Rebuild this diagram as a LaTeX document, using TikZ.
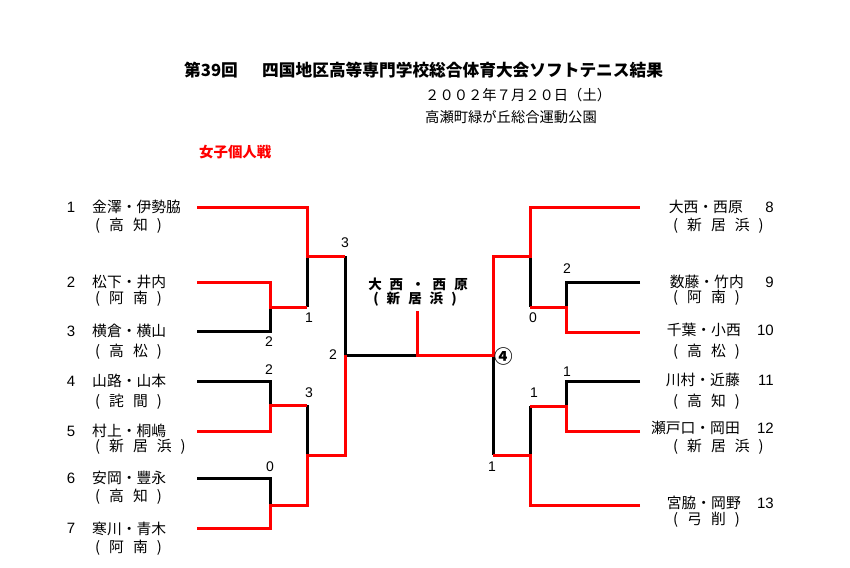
\documentclass[tikz,border=0pt]{standalone}
\usepackage{fontspec}
\setmainfont{Liberation Sans}
\newfontfamily\jp{Noto Sans CJK JP}
\definecolor{brred}{RGB}{255,0,0}
\newcommand\jg{\hspace{9pt}}
\newcommand\jh{\hspace{8pt}}
\tikzset{
  win/.style={draw=brred, line width=3pt},
  lose/.style={draw=black, line width=3pt},
  nm/.style={font=\jp\fontsize{14.8}{16}\selectfont, inner sep=0pt},
  num/.style={font=\fontsize{15}{16}\selectfont, inner sep=0pt},
  sc/.style={font=\fontsize{14}{15}\selectfont, inner sep=0pt},
  ttl/.style={font=\jp\bfseries\fontsize{16.7}{18}\selectfont, inner sep=0pt, anchor=west},
  sub/.style={font=\jp\fontsize{14.3}{16}\selectfont, inner sep=0pt, anchor=west},
  cen/.style={font=\jp\bfseries\fontsize{13.5}{15}\selectfont, inner sep=0pt},
}
\begin{document}
\begin{tikzpicture}[x=1pt,y=-1pt]
\useasboundingbox[fill=white] (0,0) rectangle (850,567);
% titles
\node[ttl] (t1) at (184,70) {第39回};
\node[ttl] (t2) at (262,70) {四国地区高等専門学校総合体育大会ソフトテニス結果};
\node[sub] (d1) at (425,95) {２００２年７月２０日（土）};
\node[sub] (d2) at (425,117) {高瀬町緑が丘総合運動公園};
\node[ttl, text=brred, font=\jp\bfseries\fontsize{14.4}{16}\selectfont] (cat) at (199,152) {女子個人戦};
% left entries
\foreach \i/\y in {1/207,2/282,3/331,4/381,5/431,6/478,7/528}{
  \node[num] (e\i) at (71,\y) {\i};
}
\node[nm,anchor=west] (m1) at (92,207) {金澤・伊勢脇};
\node[nm,anchor=west] (m2) at (92,282) {松下・井内};
\node[nm,anchor=west] (m3) at (92,331) {横倉・横山};
\node[nm,anchor=west] (m4) at (92,381) {山路・山本};
\node[nm,anchor=west] (m5) at (92,431) {村上・桐嶋};
\node[nm,anchor=west] (m6) at (92,478) {安岡・豐永};
\node[nm,anchor=west] (m7) at (92,529) {寒川・青木};
\node[nm,anchor=west] (s1) at (95,226) {(\jg 高\jg 知\jg )};
\node[nm,anchor=west] (s2) at (95,299) {(\jg 阿\jg 南\jg )};
\node[nm,anchor=west] (s3) at (95,352) {(\jg 高\jg 松\jg )};
\node[nm,anchor=west] (s4) at (95,402) {(\jg 詫\jg 間\jg )};
\node[nm,anchor=west] (s5) at (95,447) {(\jg 新\jg 居\jg 浜\jg )};
\node[nm,anchor=west] (s6) at (95,497) {(\jg 高\jg 知\jg )};
\node[nm,anchor=west] (s7) at (95,548) {(\jg 阿\jg 南\jg )};
% right entries
\node[num,anchor=east] (e8) at (774,207) {8};
\node[num,anchor=east] (e9) at (774,282) {9};
\node[num,anchor=east] (e10) at (774,330) {10};
\node[num,anchor=east] (e11) at (774,380) {11};
\node[num,anchor=east] (e12) at (774,428) {12};
\node[num,anchor=east] (e13) at (774,503) {13};
\node[nm,anchor=east] (m8) at (743,207) {大西・西原};
\node[nm,anchor=east] (m9) at (744,282) {数藤・竹内};
\node[nm,anchor=east] (m10) at (741,330) {千葉・小西};
\node[nm,anchor=east] (m11) at (740,380) {川村・近藤};
\node[nm,anchor=east] (m12) at (740,428) {瀬戸口・岡田};
\node[nm,anchor=east] (m13) at (741,503) {宮脇・岡野};
\node[nm,anchor=west] (s8) at (673,226) {(\jg 新\jg 居\jg 浜\jg )};
\node[nm,anchor=west] (s9) at (673,298) {(\jg 阿\jg 南\jg )};
\node[nm,anchor=west] (s10) at (673,352) {(\jg 高\jg 松\jg )};
\node[nm,anchor=west] (s11) at (673,402) {(\jg 高\jg 知\jg )};
\node[nm,anchor=west] (s12) at (673,447) {(\jg 新\jg 居\jg 浜\jg )};
\node[nm,anchor=west] (s13) at (673,520) {(\jg 弓\jg 削\jg )};
% centre label
\node[cen] (c1) at (418,284) {大\jh 西\jh ・\jh 西\jh 原};
\node[cen] (c2) at (415,299) {(\jh 新\jh 居\jh 浜\jh )};
% coordinates
\coordinate (a1) at (197,207); \coordinate (b1) at (307,207);
\coordinate (a2) at (197,282); \coordinate (b2) at (270,282);
\coordinate (a3) at (197,331); \coordinate (b3) at (270,331);
\coordinate (j23) at (270,307); \coordinate (k23) at (307,307);
\coordinate (a4) at (197,381); \coordinate (b4) at (270,381);
\coordinate (a5) at (197,431); \coordinate (b5) at (270,431);
\coordinate (j45) at (270,405); \coordinate (k45) at (307,405);
\coordinate (a6) at (197,478); \coordinate (b6) at (270,478);
\coordinate (a7) at (197,528); \coordinate (b7) at (270,528);
\coordinate (j67) at (270,505); \coordinate (k67) at (307,505);
\coordinate (j1) at (307,256); \coordinate (k1) at (345,256);
\coordinate (j2) at (307,455); \coordinate (k2) at (345,455);
\coordinate (jL) at (345,355);
\coordinate (cF) at (417,355); \coordinate (cT) at (417,311);
\coordinate (jR) at (493,355);
\coordinate (k8) at (493,256); \coordinate (j8) at (530,256);
\coordinate (b8) at (530,207); \coordinate (a8) at (640,207);
\coordinate (j910) at (530,307); \coordinate (k910) at (566,307);
\coordinate (b9) at (566,282); \coordinate (a9) at (640,282);
\coordinate (b10) at (566,332); \coordinate (a10) at (640,332);
\coordinate (k13) at (493,455); \coordinate (j13) at (530,455);
\coordinate (b13) at (530,505); \coordinate (a13) at (640,505);
\coordinate (j1112) at (530,406); \coordinate (k1112) at (566,406);
\coordinate (b11) at (566,381); \coordinate (a11) at (640,381);
\coordinate (b12) at (566,431); \coordinate (a12) at (640,431);
% losing lines
\draw[lose] (a3) -- (b3) -- (j23);
\draw[lose] (k23) -- (j1);
\draw[lose] (k1) -- (jL);
\draw[lose] (a4) -- (b4) -- (j45);
\draw[lose] (k45) -- (j2);
\draw[lose] (a6) -- (b6) -- (j67);
\draw[lose] (jL) -- (cF);
\draw[lose] (j8) -- (j910);
\draw[lose] (a9) -- (b9) -- (k910);
\draw[lose] (jR) -- (k13);
\draw[lose] (j13) -- (j1112);
\draw[lose] (a11) -- (b11) -- (k1112);
% winning lines
\draw[win] (a1) -- (b1) -- (j1) -- (k1);
\draw[win] (a2) -- (b2) -- (j23) -- (k23);
\draw[win] (a5) -- (b5) -- (j45) -- (k45);
\draw[win] (a7) -- (b7) -- (j67) -- (k67) -- (j2) -- (k2) -- (jL);
\draw[win] (cT) -- (cF) -- (jR) -- (k8) -- (j8) -- (b8) -- (a8);
\draw[win] (j910) -- (k910) -- (b10) -- (a10);
\draw[win] (a12) -- (b12) -- (k1112) -- (j1112);
\draw[win] (a13) -- (b13) -- (j13) -- (k13);
% scores
\node[sc] (r1) at (345,243) {3};
\node[sc] (r2) at (309,318) {1};
\node[sc] (r3) at (269,342) {2};
\node[sc] (r4) at (333,355) {2};
\node[sc] (r5) at (269,370) {2};
\node[sc] (r6) at (309,393) {3};
\node[sc] (r7) at (270,467) {0};
\node[sc] (r8) at (533,318) {0};
\node[sc] (r9) at (567,269) {2};
\node[sc,font=\jp\bfseries\fontsize{18.5}{19}\selectfont] (r10) at (504,356) {④};
\node[sc] (r11) at (567,372) {1};
\node[sc] (r12) at (534,393) {1};
\node[sc] (r13) at (492,467) {1};
\end{tikzpicture}
\end{document}
